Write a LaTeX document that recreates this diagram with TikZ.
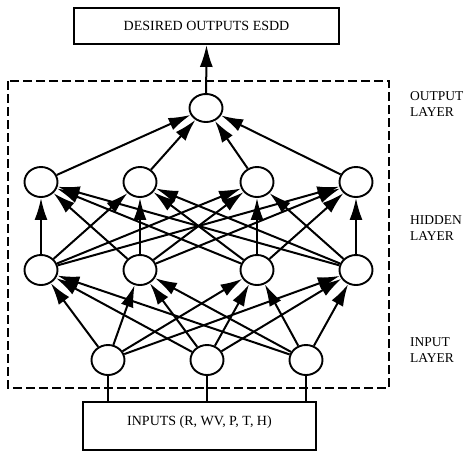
\documentclass[tikz,border=0pt]{standalone}
\usepackage{fontspec}
\setmainfont{Liberation Serif}
\usetikzlibrary{arrows.meta,shapes.geometric}

\tikzset{
  neuron/.style={ellipse, draw, line width=1.9pt, minimum width=33pt, minimum height=30pt, inner sep=0pt, fill=white},
  databox/.style={rectangle, draw, line width=1.9pt, inner sep=0pt},
  link/.style={line width=2pt, -{Latex[length=22pt,width=13pt]}},
  feed/.style={line width=1.7pt},
  layerlabel/.style={anchor=west, align=left, inner sep=0pt, font=\fontsize{13.5}{16.5}\selectfont},
  boxtext/.style={font=\fontsize{14}{16}\selectfont}
}

\begin{document}
\begin{tikzpicture}[x=1pt,y=-1pt]
\useasboundingbox (0,0) rectangle (466,451);

% dashed frame round the network
\draw[line width=2pt, dash pattern=on 9pt off 4pt] (8,81) rectangle (389,388);

% output and input boxes
\node[databox, minimum width=265pt, minimum height=36pt] (desired) at (206.5,26) {};
\node[boxtext] at (206.5,26) {DESIRED OUTPUTS ESDD};
\node[databox, minimum width=233pt, minimum height=48pt] (inputs) at (199.5,426) {};
\node[boxtext] at (199.5,422) {INPUTS (R, WV, P, T, H)};

% neurons
\node[neuron, minimum height=28pt] (o) at (206,108) {};
\foreach \i/\x in {1/41,2/140,3/257,4/356} {
  \node[neuron] (h\i) at (\x,182) {};
  \node[neuron] (g\i) at (\x,270) {};
}
\foreach \i/\x in {1/108,2/207,3/306} {
  \node[neuron] (n\i) at (\x,360) {};
}

% input lines from the box
\foreach \i in {1,2,3} {
  \draw[feed] (inputs.north -| n\i) -- (n\i.south);
}

% connections
\foreach \i in {1,2,3} {
  \foreach \j in {1,2,3,4} {
    \draw[link] (n\i) -- (g\j);
  }
}
\foreach \i in {1,2,3,4} {
  \foreach \j in {1,2,3,4} {
    \draw[link] (g\i) -- (h\j);
  }
  \draw[link] (h\i) -- (o);
}
\draw[link] (o) -- (desired.south);

% layer labels
\node[layerlabel] (lo) at (410,104) {OUTPUT\\LAYER};
\node[layerlabel] (lh) at (410,228) {HIDDEN\\LAYER};
\node[layerlabel] (li) at (410,350) {INPUT\\LAYER};
\end{tikzpicture}
\end{document}
